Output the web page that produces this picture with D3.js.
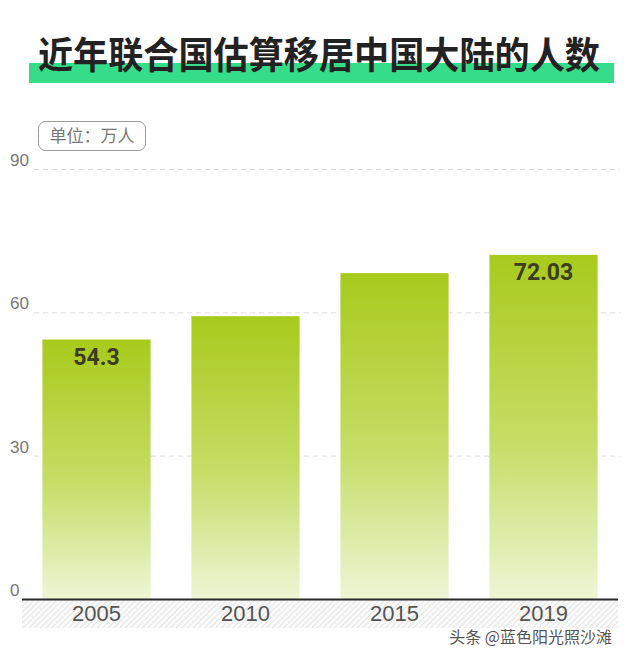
<!DOCTYPE html>
<html>
<head>
<meta charset="utf-8">
<script src="https://cdn.jsdelivr.net/npm/d3@7"></script>
<style>
  body { margin: 0; background: #fff; }
  svg { display: block; }
</style>
</head>
<body>
<div id="chart"></div>
<script>
var years = ['2005', '2010', '2015', '2019'];
var people = [54.3, 59.2, 68.2, 72.03];
var shownLabels = ['54.3', '', '', '72.03'];
var yTicks = [0, 30, 60, 90];

var width = 635, height = 660;
var svg = d3.select('#chart').append('svg')
  .attr('width', width)
  .attr('height', height);

var defs = svg.append('defs');
var grad = defs.append('linearGradient')
  .attr('id', 'barGrad')
  .attr('x1', 0).attr('y1', 0).attr('x2', 0).attr('y2', 1);
grad.append('stop').attr('offset', '0%').attr('stop-color', '#a8ca1c');
grad.append('stop').attr('offset', '55%').attr('stop-color', '#c6dd66');
grad.append('stop').attr('offset', '100%').attr('stop-color', '#eef5d6');

var hatch = defs.append('pattern')
  .attr('id', 'hatch')
  .attr('width', 4).attr('height', 4)
  .attr('patternUnits', 'userSpaceOnUse')
  .attr('patternTransform', 'rotate(45)');
hatch.append('rect').attr('width', 4).attr('height', 4).attr('fill', '#fafafa');
hatch.append('line')
  .attr('x1', 0).attr('y1', 0).attr('x2', 0).attr('y2', 4)
  .attr('stroke', '#d6d6d6').attr('stroke-width', 1.2);

// title
svg.append('rect')
  .attr('x', 29).attr('y', 63)
  .attr('width', 585).attr('height', 20)
  .attr('fill', '#35dc8a');
svg.append('text')
  .attr('x', 38).attr('y', 69)
  .attr('textLength', 562)
  .attr('lengthAdjust', 'spacingAndGlyphs')
  .attr('font-family', '"Noto Sans CJK SC", sans-serif')
  .attr('font-weight', 'bold')
  .attr('font-size', 37)
  .attr('fill', '#222')
  .text('近年联合国估算移居中国大陆的人数');

// unit box
svg.append('rect')
  .attr('x', 38.5).attr('y', 121.5)
  .attr('width', 107).attr('height', 29)
  .attr('rx', 7)
  .attr('fill', '#fff')
  .attr('stroke', '#9a9a9a');
svg.append('text')
  .attr('x', 92).attr('y', 142)
  .attr('text-anchor', 'middle')
  .attr('font-family', '"Noto Sans CJK SC", sans-serif')
  .attr('font-size', 17)
  .attr('fill', '#777')
  .text('单位：万人');

var x = d3.scaleBand()
  .domain(years)
  .range([22, 618])
  .paddingInner(0.274)
  .paddingOuter(0.137);

var y = d3.scaleLinear()
  .domain([0, 90])
  .range([599, 169]);

// hatched band under axis
svg.append('rect')
  .attr('x', 22).attr('y', 600)
  .attr('width', 596).attr('height', 28)
  .attr('fill', 'url(#hatch)');

// grid
svg.append('g')
  .selectAll('line')
  .data(yTicks.filter(function (d) { return d > 0; }))
  .enter()
  .append('line')
  .attr('x1', 34).attr('x2', 620)
  .attr('y1', function (d) { return y(d) + 0.5; })
  .attr('y2', function (d) { return y(d) + 0.5; })
  .attr('stroke', '#dcdcdc')
  .attr('stroke-dasharray', '5,4');

svg.append('g')
  .selectAll('text')
  .data(yTicks)
  .enter()
  .append('text')
  .attr('x', 10)
  .attr('y', function (d) { return y(d) - 3; })
  .attr('font-family', '"Liberation Sans", Arial, sans-serif')
  .attr('font-size', 17)
  .attr('fill', '#777')
  .text(function (d) { return d; });

// bars
svg.append('g')
  .selectAll('rect')
  .data(people)
  .enter()
  .append('rect')
  .attr('x', function (d, i) { return x(years[i]); })
  .attr('width', x.bandwidth())
  .attr('y', function (d) { return y(d); })
  .attr('height', function (d) { return y(0) - y(d); })
  .attr('fill', 'url(#barGrad)');

svg.append('g')
  .selectAll('text')
  .data(people)
  .enter()
  .append('text')
  .attr('x', function (d, i) { return x(years[i]) + x.bandwidth() / 2; })
  .attr('y', function (d) { return y(d) + 25; })
  .attr('text-anchor', 'middle')
  .attr('font-family', 'Roboto, sans-serif')
  .attr('font-weight', 'bold')
  .attr('font-size', 23)
  .attr('fill', '#3b3d1e')
  .text(function (d, i) { return shownLabels[i]; });

// axis line
svg.append('line')
  .attr('x1', 22).attr('x2', 618)
  .attr('y1', 599.5).attr('y2', 599.5)
  .attr('stroke', '#2a2a2a')
  .attr('stroke-width', 2);

var xAxis = svg.append('g')
  .attr('transform', 'translate(0,600)')
  .call(d3.axisBottom(x).tickSize(0).tickPadding(0));
xAxis.select('.domain').remove();
xAxis.selectAll('text')
  .attr('dy', 0)
  .attr('y', 21)
  .attr('font-family', '"Liberation Sans", Arial, sans-serif')
  .attr('font-size', 22)
  .attr('fill', '#555');

// watermark
svg.append('text')
  .attr('x', 612).attr('y', 643)
  .attr('text-anchor', 'end')
  .attr('font-family', '"Noto Sans CJK SC", sans-serif')
  .attr('font-size', 16)
  .attr('fill', '#555')
  .text('头条 @蓝色阳光照沙滩');
</script>
</body>
</html>
